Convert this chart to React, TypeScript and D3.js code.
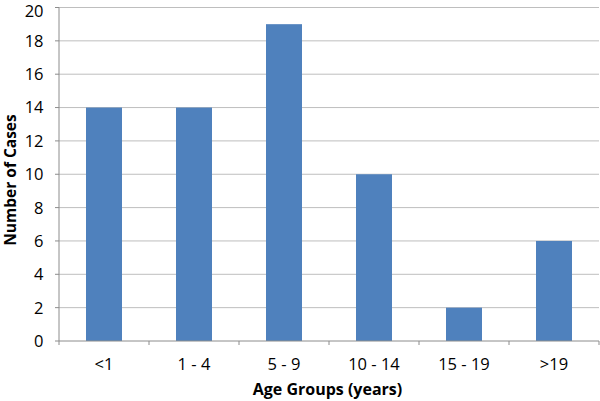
import React from "react";
import * as d3 from "d3";

const categories = ["<1", "1 - 4", "5 - 9", "10 - 14", "15 - 19", ">19"];
const cases = [14, 14, 19, 10, 2, 6];
const yTicks = [0, 2, 4, 6, 8, 10, 12, 14, 16, 18, 20];

export default function App() {
  const W = 600, H = 401;
  const left = 59, right = 599, top = 7.5, bottom = 341;
  const x = d3.scaleBand<string>().domain(categories).range([left, right]).paddingInner(0.6).paddingOuter(0.3);
  const xb = d3.scaleBand<string>().domain(categories).range([left, right]);
  const y = d3.scaleLinear().domain([0, 20]).range([bottom, top]);
  const font = "'Open Sans', 'Liberation Sans', sans-serif";
  return (
    <svg width={W} height={H} style={{ position: "absolute", left: 0, top: 0 }}>
      <rect width={W} height={H} fill="#fff" />
      {yTicks.filter(t => t > 0).map(t => (
        <line key={t} x1={left} x2={right} y1={y(t)} y2={y(t)} stroke="#BEBEBE" strokeWidth={1} />
      ))}
      {categories.map((c, i) => (
        <rect key={c} x={x(c)} y={y(cases[i])} width={x.bandwidth()} height={y(0) - y(cases[i])} fill="#4F81BD" />
      ))}
      <line x1={left} x2={left} y1={top} y2={bottom} stroke="#8C8C8C" />
      <line x1={left} x2={right} y1={bottom} y2={bottom} stroke="#8C8C8C" />
      {yTicks.map(t => (
        <line key={"yt" + t} x1={left - 4} x2={left} y1={y(t)} y2={y(t)} stroke="#8C8C8C" />
      ))}
      {[...categories.map(c => xb(c) as number), right].map((p, i) => (
        <line key={"xt" + i} x1={p} x2={p} y1={bottom} y2={bottom + 4} stroke="#8C8C8C" />
      ))}
      {yTicks.map(t => (
        <text key={"yl" + t} x={43.5} y={Math.max(y(t), 11)} dy="0.36em" textAnchor="end" fontFamily={font} fontSize={16.5} fill="#000">{t}</text>
      ))}
      {categories.map(c => (
        <text key={"xl" + c} x={(xb(c) as number) + xb.bandwidth() / 2} y={364.5} dy="0.36em" textAnchor="middle" fontFamily={font} fontSize={16.5} fill="#000">{c}</text>
      ))}
      <text x={327.5} y={389.5} dy="0.36em" textAnchor="middle" fontFamily={font} fontSize={16} fontWeight="bold" fill="#000">Age Groups (years)</text>
      <text transform={`translate(10,${180}) rotate(-90)`} dy="0.36em" textAnchor="middle" fontFamily={font} fontSize={15.5} fontWeight="bold" fill="#000">Number of Cases</text>
    </svg>
  );
}
